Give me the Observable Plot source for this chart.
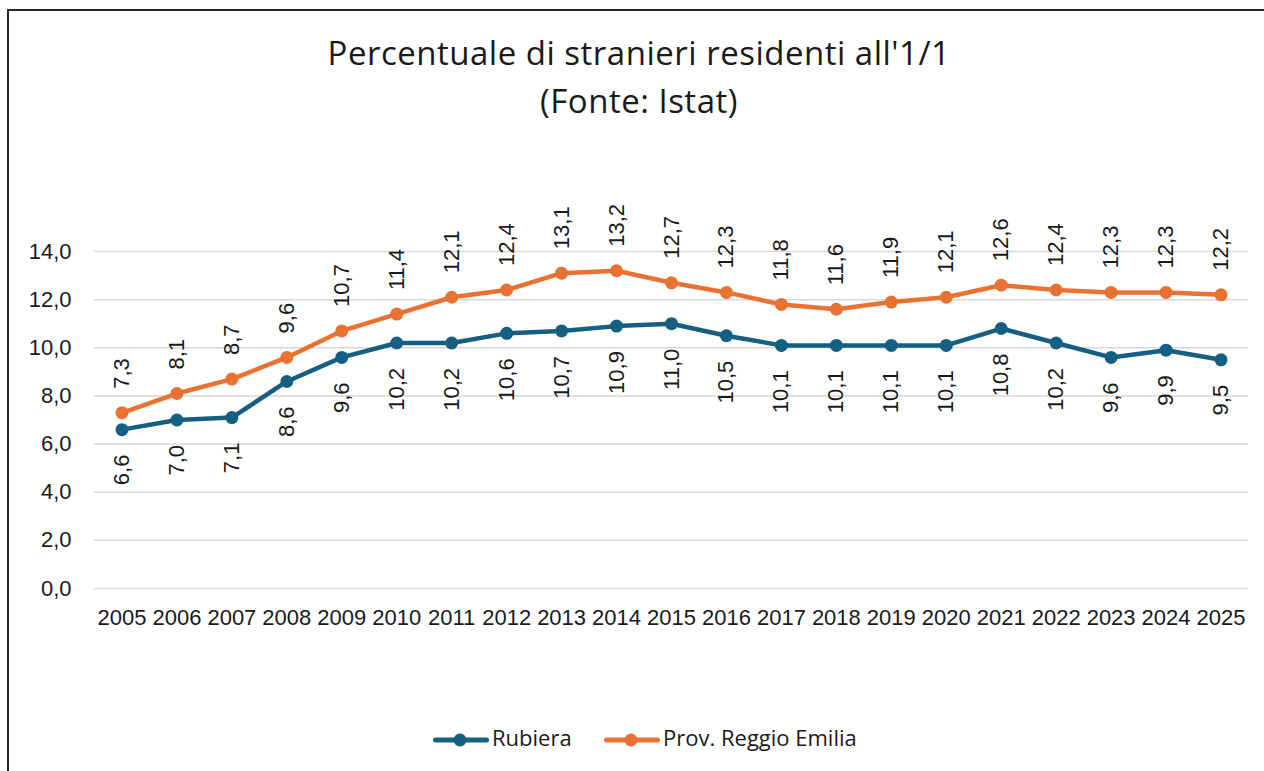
<!DOCTYPE html>
<html>
<head>
<meta charset="utf-8">
<script src="https://cdn.jsdelivr.net/npm/d3@7"></script>
<script src="https://cdn.jsdelivr.net/npm/@observablehq/plot@0.6"></script>
<style>
  html, body { margin: 0; padding: 0; background: #fff; }
  body { width: 1264px; height: 771px; position: relative; overflow: hidden; font-family: "Liberation Sans", Arial, sans-serif; color: #1a1a1a; }
  #frame { position: absolute; left: 7px; top: 9px; width: 1262px; height: 770px; border-left: 2px solid #262626; border-top: 2px solid #262626; }
  .title { position: absolute; left: 0; width: 1278px; text-align: center; font-family: "Open Sans", sans-serif; font-size: 33px; line-height: 45px; letter-spacing: 0.5px; color: #1a1a1a; white-space: nowrap; }
  #chart { position: absolute; left: 0; top: 150px; }
  .swatch { position: absolute; top: 728px; }
  .label { position: absolute; top: 722px; font-family: "Open Sans", sans-serif; font-size: 22px; line-height: 30px; color: #1a1a1a; white-space: nowrap; }
</style>
</head>
<body>
<div id="frame"></div>
<div class="title" style="top:30px">Percentuale di stranieri residenti all'1/1</div>
<div class="title" style="top:78px">(Fonte: Istat)</div>
<div id="chart"></div>
<div id="legend"></div>
<script>
const years = [2005,2006,2007,2008,2009,2010,2011,2012,2013,2014,2015,2016,2017,2018,2019,2020,2021,2022,2023,2024,2025];
const rubiera = [6.6,7.0,7.1,8.6,9.6,10.2,10.2,10.6,10.7,10.9,11.0,10.5,10.1,10.1,10.1,10.1,10.8,10.2,9.6,9.9,9.5];
const provincia = [7.3,8.1,8.7,9.6,10.7,11.4,12.1,12.4,13.1,13.2,12.7,12.3,11.8,11.6,11.9,12.1,12.6,12.4,12.3,12.3,12.2];
const seriesNames = ["Rubiera", "Prov. Reggio Emilia"];
const seriesColors = ["#156082", "#E97132"];
const yTicks = [0,2,4,6,8,10,12,14];

const fmt = v => v.toFixed(1).replace(".", ",");
const rows = [
  ...years.map((y, i) => ({year: y, value: rubiera[i], series: seriesNames[0]})),
  ...years.map((y, i) => ({year: y, value: provincia[i], series: seriesNames[1]}))
];
const rubRows = rows.filter(d => d.series === seriesNames[0]);
const provRows = rows.filter(d => d.series === seriesNames[1]);

const chart = Plot.plot({
  width: 1264,
  height: 500,
  marginLeft: 94,
  marginRight: 16,
  marginTop: 101,
  marginBottom: 62,
  style: {fontFamily: "Liberation Sans, Arial, sans-serif", fontSize: "22px", color: "#1a1a1a", background: "transparent"},
  x: {type: "linear", domain: [years[0] - 0.5, years[years.length - 1] + 0.5], label: null},
  y: {domain: [0, 14], label: null},
  color: {domain: seriesNames, range: seriesColors},
  marks: [
    Plot.ruleY(yTicks, {stroke: "#d9d9d9", strokeWidth: 1.5}),
    Plot.axisY(yTicks, {tickSize: 0, tickPadding: 23, tickFormat: fmt, fontSize: 22, label: null}),
    Plot.axisX(years, {tickSize: 0, tickPadding: 21, tickFormat: d => String(d), fontSize: 22, label: null}),
    Plot.line(rows, {x: "year", y: "value", z: "series", stroke: "series", strokeWidth: 4.5, strokeLinejoin: "round", strokeLinecap: "round"}),
    Plot.dot(rows, {x: "year", y: "value", fill: "series", r: 6.5, strokeWidth: 0}),
    Plot.text(rubRows, {x: "year", y: "value", text: d => fmt(d.value), rotate: -90, textAnchor: "end", dy: 25, fontSize: 22, fill: "#1a1a1a"}),
    Plot.text(provRows, {x: "year", y: "value", text: d => fmt(d.value), rotate: -90, textAnchor: "start", dy: -24, fontSize: 22, fill: "#1a1a1a"})
  ]
});
document.getElementById("chart").appendChild(chart);

// legend
const legend = document.getElementById("legend");
const swatchLeft = [431, 602];
const labelLeft = [492, 663];
const ns = "http://www.w3.org/2000/svg";
seriesNames.forEach((name, i) => {
  const svg = document.createElementNS(ns, "svg");
  svg.setAttribute("class", "swatch");
  svg.setAttribute("width", 60);
  svg.setAttribute("height", 24);
  svg.style.left = swatchLeft[i] + "px";
  const line = document.createElementNS(ns, "line");
  line.setAttribute("x1", 4.5); line.setAttribute("x2", 55.5);
  line.setAttribute("y1", 12); line.setAttribute("y2", 12);
  line.setAttribute("stroke", seriesColors[i]);
  line.setAttribute("stroke-width", 5);
  line.setAttribute("stroke-linecap", "round");
  const c = document.createElementNS(ns, "circle");
  c.setAttribute("cx", 29); c.setAttribute("cy", 12); c.setAttribute("r", 6.5);
  c.setAttribute("fill", seriesColors[i]);
  svg.appendChild(line); svg.appendChild(c);
  legend.appendChild(svg);
  const span = document.createElement("div");
  span.className = "label";
  span.style.left = labelLeft[i] + "px";
  span.textContent = name;
  legend.appendChild(span);
});
</script>
</body>
</html>
